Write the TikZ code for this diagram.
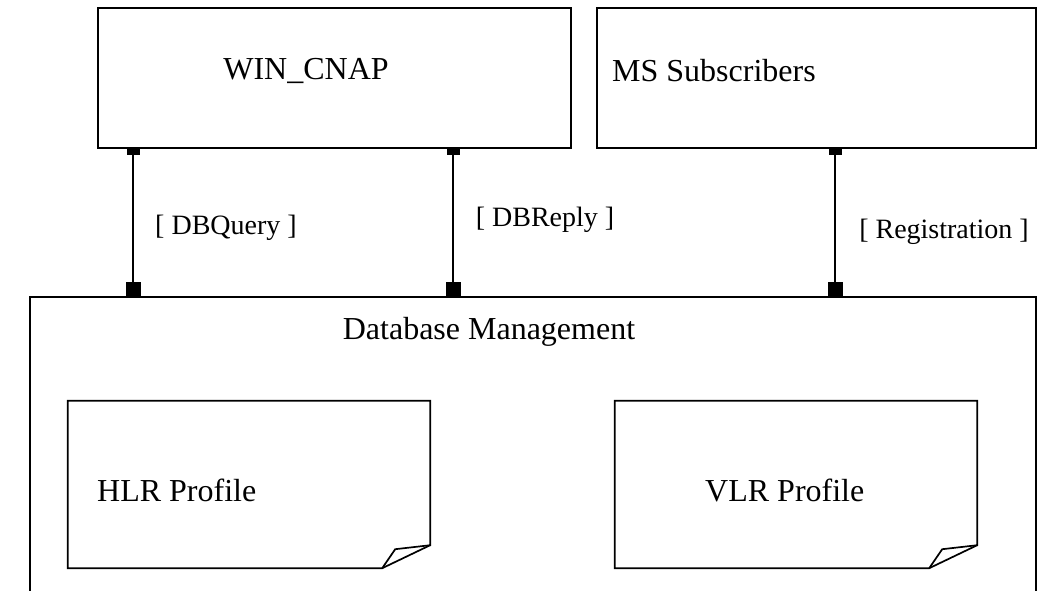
\documentclass[tikz,border=0pt]{standalone}
\usepackage{fontspec}
\setmainfont{Liberation Serif}
\usetikzlibrary{calc}
\tikzset{
  blk/.style = {rectangle, draw=black, line width=1.7pt, inner sep=0pt},
  port_s/.style = {rectangle, fill=black, inner sep=0pt,
    minimum width=13pt, minimum height=7pt},% small port, upper end
  port_b/.style = {rectangle, fill=black, inner sep=0pt,
    minimum width=15pt, minimum height=15pt},% big port, lower end
  flow/.style = {draw=black, line width=1.4pt},
  ttl/.style = {font=\fontsize{32}{38}\selectfont, inner sep=0pt},
  lbl/.style = {font=\fontsize{28}{33}\selectfont, inner sep=0pt},
  docnode/.style = {rectangle, inner sep=0pt,
    minimum width=362pt, minimum height=167pt},
  docline/.style = {draw=black, line width=1.7pt, line join=miter}
}
\begin{document}
\begin{tikzpicture}[x=1pt, y=-1pt]
\useasboundingbox (0,0) rectangle (1043,590);
\clip (0,0) rectangle (1043,590);

% upper blocks
\node[blk, minimum width=473pt, minimum height=140pt] (win) at (334.5,78) {};
\node[blk, minimum width=439pt, minimum height=140pt] (ms) at (816.5,78) {};
\node[ttl] (wint) at (306,71) {WIN\_CNAP};
\node[ttl, anchor=west] (mst) at (612,71) {MS Subscribers};

% lower block, open at the bottom
\node[blk, minimum width=1006pt, minimum height=360pt] (db) at (533,477) {};
\node[ttl] (dbt) at (489,332) {Database Management};

% profiles
\node[docnode] (hlr) at (249,484.5) {};
\node[docnode] (vlr) at (796,484.5) {};
\foreach \d in {hlr,vlr}{
  \draw[docline] (\d.north west) -- (\d.north east) -- ($(\d.south east)+(0,-23)$)
    -- ($(\d.south east)+(-48,0)$) -- (\d.south west) -- cycle;
  \draw[docline] ($(\d.south east)+(-48,0)$) -- ($(\d.south east)+(-35,-19)$)
    -- ($(\d.south east)+(0,-23)$);
}
\node[ttl, anchor=west] (hlrt) at (97,490) {HLR Profile};
\node[ttl, anchor=west] (vlrt) at (705,490) {VLR Profile};

% ports and flows
\node[port_s, anchor=north] (q1) at (133,148) {};
\node[port_b, anchor=south] (q2) at (133,297) {};
\node[port_s, anchor=north] (r1) at (453,148) {};
\node[port_b, anchor=south] (r2) at (453,297) {};
\node[port_s, anchor=north] (g1) at (835,148) {};
\node[port_b, anchor=south] (g2) at (835,297) {};
\draw[flow] (q1) -- (q2);
\draw[flow] (r1) -- (r2);
\draw[flow] (g1) -- (g2);
\node[lbl] (ql) at (226,228) {[ DBQuery ]};
\node[lbl] (rl) at (545,220) {[ DBReply ]};
\node[lbl] (gl) at (944,232) {[ Registration ]};
\end{tikzpicture}
\end{document}
